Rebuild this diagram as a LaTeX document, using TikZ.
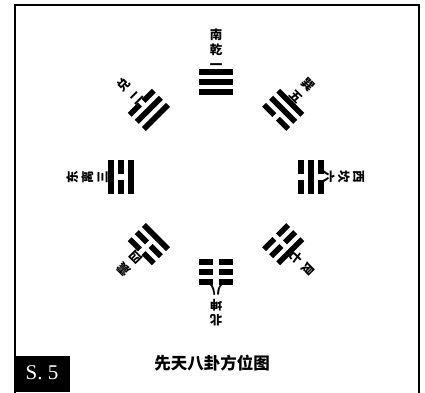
\documentclass[tikz,border=0pt]{standalone}
\usepackage{fontspec}
\setmainfont{Liberation Serif}
\newfontfamily\cjk{Noto Sans CJK SC}
\tikzset{
  lab/.style={align=center, inner sep=0pt, transform shape},
  frame/.style={draw=black, line width=1.6pt},
}
\def\R{95}
\newcommand\yao[2]{%
  \ifnum#2=1
    \fill (-17,#1-2.8) rectangle (17,#1+2.8);
  \else
    \fill (-17,#1-2.8) rectangle (-2.6,#1+2.8);
    \fill (2.6,#1-2.8) rectangle (17,#1+2.8);
  \fi}
\newcommand\gua[7]{%
  \begin{scope}[shift={(216,215)}, rotate=#1-90]
    \yao{\R-10}{#2}\yao{\R}{#3}\yao{\R+10}{#4}
    \node[lab, anchor=south, font=\cjk\bfseries\fontsize{12.5}{#7}\selectfont] (#6) at (0,\R+12.5) {#5};
  \end{scope}}
\begin{document}
\begin{tikzpicture}[x=1pt,y=1pt]
\useasboundingbox (0,0) rectangle (425,392);
\fill[white] (0,0) rectangle (425,392);
\draw[frame] (15,-5) -- (15,387) -- (419,387) -- (419,-5);
\gua{90}{1}{1}{1}{南\\乾\\一}{qian}{15}
\gua{135}{1}{1}{0}{兑\\二}{dui}{17.5}
\gua{180}{1}{0}{1}{东\\离\\三}{li}{15}
\gua{225}{1}{0}{0}{震\\四}{zhen}{17.5}
\gua{270}{0}{0}{0}{北\\坤\\八}{kun}{15}
\gua{315}{0}{0}{1}{艮\\七}{gen}{17.5}
\gua{0}{0}{1}{0}{西\\坎\\六}{kan}{15}
\gua{45}{0}{1}{1}{巽\\五}{xun}{17.5}
\node[font=\cjk\bfseries\fontsize{16.5}{18}\selectfont, inner sep=0pt] (title) at (212,29) {先天八卦方位图};
\fill[black] (14,0) rectangle (70,36);
\node[text=white, font=\fontsize{21}{22}\selectfont, inner sep=0pt] (s5) at (42,19) {S. 5};
\end{tikzpicture}
\end{document}
